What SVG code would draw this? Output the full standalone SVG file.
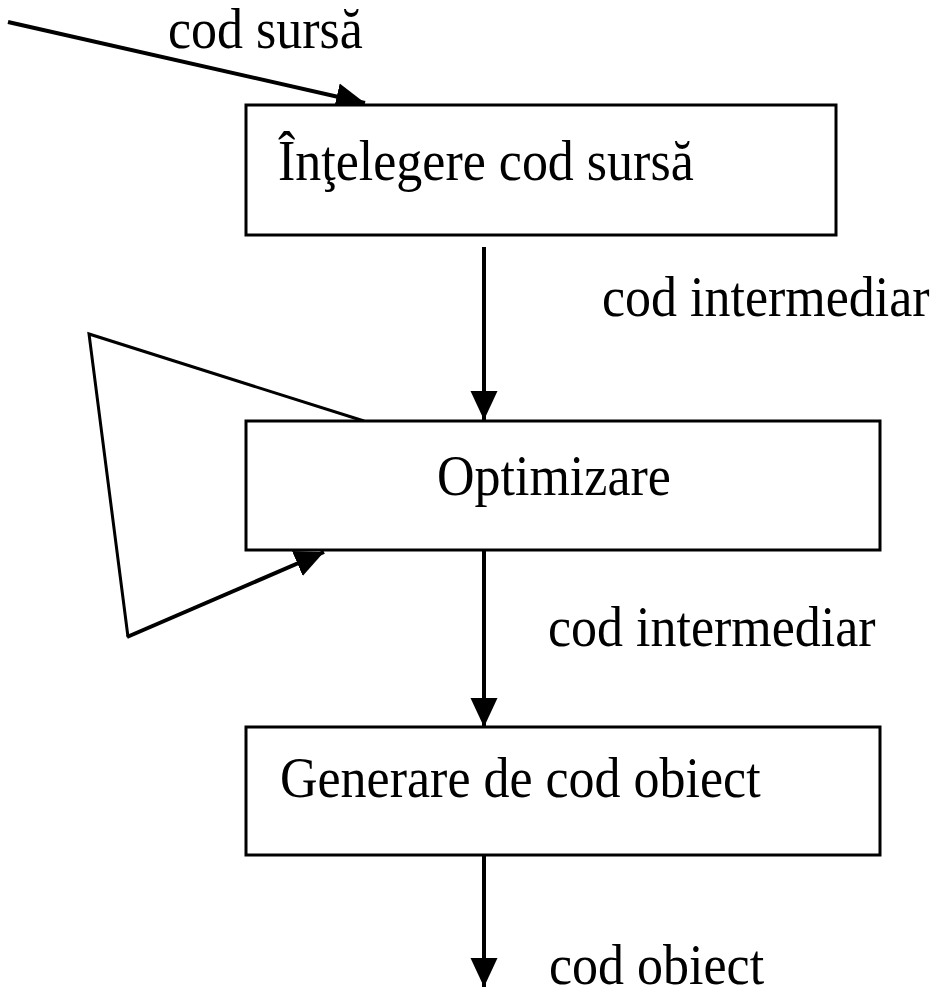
<svg xmlns="http://www.w3.org/2000/svg" width="937" height="989" viewBox="0 0 937 989">
<defs>
<marker id="ah" markerUnits="userSpaceOnUse" markerWidth="32" markerHeight="32" viewBox="0 0 32 32" refX="29" refY="16" orient="auto">
<path d="M0,2.5 L29,16 L0,29.5 Z" fill="#000"/>
</marker>
</defs>
<style>
text{font-family:"Liberation Serif","Times New Roman",serif;font-size:52px;fill:#000}
.box{fill:#fff;stroke:#000;stroke-width:3}
.c{stroke:#000;stroke-width:4;fill:none}
.l{stroke:#000;stroke-width:3;fill:none}
</style>
<rect width="937" height="989" fill="#fff"/>
<g id="connectors">
<line class="c" x1="8" y1="22" x2="365" y2="103" marker-end="url(#ah)"/>
<line class="c" x1="484" y1="247" x2="484" y2="420" marker-end="url(#ah)"/>
<line class="c" x1="484" y1="551" x2="484" y2="727" marker-end="url(#ah)"/>
<line class="c" x1="484" y1="856" x2="484" y2="987" marker-end="url(#ah)"/>
<polyline class="l" points="364,421 89,334 128,637"/>
<line class="c" x1="127" y1="637" x2="324" y2="552" marker-end="url(#ah)"/>
</g>
<g id="node1">
<rect class="box" x="246" y="105" width="590" height="130"/>
<text transform="translate(278,180) scale(1,1.08)">Înţelegere cod sursă</text>
</g>
<g id="node2">
<rect class="box" x="246" y="421" width="634" height="129"/>
<text transform="translate(437,495) scale(1,1.08)">Optimizare</text>
</g>
<g id="node3">
<rect class="box" x="246" y="727" width="634" height="128"/>
<text transform="translate(280,797) scale(1,1.08)">Generare de cod obiect</text>
</g>
<g id="labels">
<text transform="translate(168,48) scale(1,1.08)">cod sursă</text>
<text transform="translate(602,316) scale(1,1.08)">cod intermediar</text>
<text transform="translate(548,646) scale(1,1.08)">cod intermediar</text>
<text transform="translate(549,984) scale(1,1.08)">cod obiect</text>
</g>
</svg>
